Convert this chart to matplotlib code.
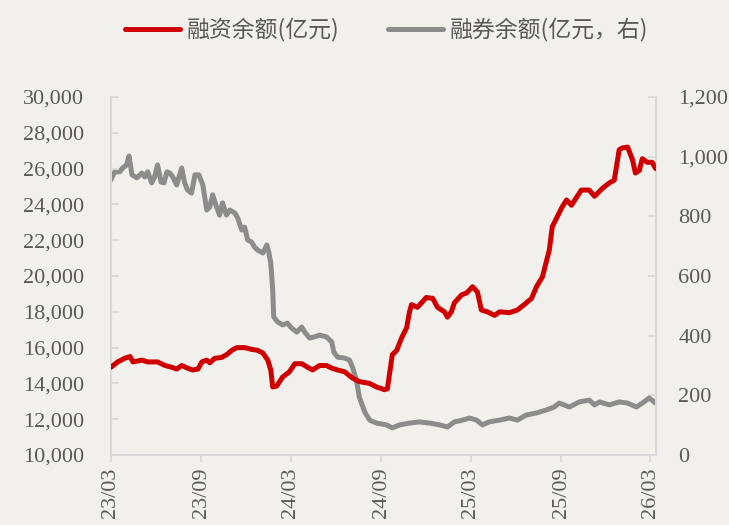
import numpy as np
import pandas as pd
import matplotlib
matplotlib.use("Agg")
import matplotlib.pyplot as plt
import matplotlib.dates as mdates
from matplotlib.ticker import FuncFormatter, MultipleLocator

plt.rcParams['font.family'] = ['Liberation Serif', 'Noto Sans CJK SC', 'DejaVu Sans']

# 融资余额 (亿元), left axis
fin_dates = ["2023-03-01", "2023-03-15", "2023-03-29", "2023-04-09", "2023-04-15", "2023-05-03",
             "2023-05-15", "2023-06-04", "2023-06-19", "2023-07-03", "2023-07-13", "2023-07-23",
             "2023-08-04", "2023-08-14", "2023-08-25", "2023-09-02", "2023-09-12", "2023-09-18",
             "2023-09-28", "2023-10-12", "2023-10-22", "2023-11-02", "2023-11-12", "2023-11-28",
             "2023-12-12", "2023-12-24", "2024-01-04", "2024-01-14", "2024-01-20", "2024-01-24",
             "2024-02-01", "2024-02-13", "2024-02-27", "2024-03-09", "2024-03-23", "2024-04-04",
             "2024-04-14", "2024-04-28", "2024-05-12", "2024-05-23", "2024-06-04", "2024-06-18",
             "2024-07-04", "2024-07-18", "2024-08-08", "2024-08-22", "2024-09-07", "2024-09-13",
             "2024-09-23", "2024-10-02", "2024-10-12", "2024-10-22", "2024-10-28", "2024-11-01",
             "2024-11-13", "2024-11-23", "2024-12-01", "2024-12-14", "2024-12-24", "2025-01-01",
             "2025-01-07", "2025-01-13", "2025-01-21", "2025-01-27", "2025-02-11", "2025-02-21",
             "2025-03-05", "2025-03-15", "2025-03-23", "2025-04-04", "2025-04-19", "2025-04-29",
             "2025-05-19", "2025-06-04", "2025-06-18", "2025-07-03", "2025-07-13", "2025-07-25",
             "2025-08-08", "2025-08-14", "2025-09-02", "2025-09-12", "2025-09-22", "2025-10-12",
             "2025-10-28", "2025-11-08", "2025-11-24", "2025-12-08", "2025-12-18", "2025-12-28",
             "2026-01-03", "2026-01-14", "2026-01-24", "2026-01-30", "2026-02-07", "2026-02-13",
             "2026-02-23", "2026-03-05", "2026-03-12"]
fin_values = [14900, 15200, 15400, 15500, 15200, 15300, 15200, 15200, 15000, 14900, 14800, 15000,
              14850, 14750, 14800, 15200, 15300, 15150, 15400, 15450, 15600, 15850, 16000, 16000,
              15900, 15850, 15700, 15300, 14750, 13800, 13850, 14350, 14650, 15100, 15100, 14900,
              14750, 15000, 15000, 14850, 14750, 14650, 14300, 14100, 14000, 13800, 13650, 13700,
              15600, 15850, 16550, 17100, 18000, 18400, 18250, 18550, 18800, 18750, 18250, 18100,
              18000, 17700, 18000, 18500, 18950, 19050, 19400, 19100, 18100, 18000, 17800, 18000,
              17950, 18100, 18400, 18750, 19400, 19950, 21450, 22750, 23800, 24250, 23950, 24800,
              24800, 24450, 24900, 25200, 25350, 27050, 27150, 27200, 26500, 25750, 25900, 26550,
              26350, 26350, 26000]

# 融券余额 (亿元), right axis
sec_dates = ["2023-03-01", "2023-03-09", "2023-03-19", "2023-03-25", "2023-04-02", "2023-04-07",
             "2023-04-13", "2023-04-23", "2023-05-03", "2023-05-09", "2023-05-15", "2023-05-23",
             "2023-05-29", "2023-06-04", "2023-06-11", "2023-06-17", "2023-06-23", "2023-06-29",
             "2023-07-05", "2023-07-13", "2023-07-17", "2023-07-23", "2023-07-29", "2023-08-04",
             "2023-08-12", "2023-08-19", "2023-08-27", "2023-09-04", "2023-09-12", "2023-09-18",
             "2023-09-24", "2023-10-02", "2023-10-08", "2023-10-14", "2023-10-22", "2023-10-29",
             "2023-11-08", "2023-11-14", "2023-11-22", "2023-11-28", "2023-12-04", "2023-12-12",
             "2023-12-18", "2023-12-24", "2024-01-04", "2024-01-12", "2024-01-16", "2024-01-20",
             "2024-01-24", "2024-01-26", "2024-02-03", "2024-02-13", "2024-02-23", "2024-03-02",
             "2024-03-13", "2024-03-23", "2024-03-29", "2024-04-08", "2024-04-18", "2024-04-28",
             "2024-05-12", "2024-05-23", "2024-05-27", "2024-06-04", "2024-06-18", "2024-06-28",
             "2024-07-04", "2024-07-12", "2024-07-18", "2024-07-29", "2024-08-08", "2024-08-22",
             "2024-09-11", "2024-09-23", "2024-10-08", "2024-10-28", "2024-11-17", "2024-12-08",
             "2024-12-28", "2025-01-13", "2025-01-27", "2025-02-13", "2025-02-27", "2025-03-13",
             "2025-03-25", "2025-04-08", "2025-04-29", "2025-05-19", "2025-06-04", "2025-06-22",
             "2025-07-13", "2025-08-02", "2025-08-18", "2025-08-28", "2025-09-18", "2025-10-08",
             "2025-10-28", "2025-11-08", "2025-11-18", "2025-12-08", "2025-12-28", "2026-01-14",
             "2026-02-01", "2026-02-13", "2026-02-27", "2026-03-12"]
sec_values = [922, 949, 949, 962, 972, 1002, 939, 929, 945, 932, 949, 912,
              932, 972, 915, 912, 949, 945, 932, 905, 929, 962, 912, 888,
              878, 939, 939, 905, 821, 831, 872, 831, 804, 845, 804, 821,
              811, 794, 754, 764, 721, 714, 697, 687, 677, 704, 680, 644,
              553, 463, 446, 436, 442, 426, 412, 429, 412, 392, 396, 402,
              396, 379, 345, 328, 325, 318, 295, 251, 194, 144, 117, 107,
              101, 91, 101, 107, 111, 107, 101, 94, 111, 117, 124, 117,
              101, 111, 117, 124, 117, 134, 141, 151, 161, 174, 161, 178,
              184, 168, 178, 168, 178, 174, 161, 174, 191, 174]

x_ticks = ["2023-03-01", "2023-09-01", "2024-03-01", "2024-09-01", "2025-03-01", "2025-09-01", "2026-03-01"]

bg = '#F2F0ED'
txt = '#595959'
axcol = '#D9D9D9'

fig = plt.figure(figsize=(7.29, 5.25), dpi=100, facecolor=bg)
ax = fig.add_axes([0.152, 0.1333, 0.748, 0.682])
ax.set_facecolor(bg)
ax2 = ax.twinx()

l1, = ax.plot(pd.to_datetime(fin_dates), fin_values, color='#D00000', lw=3.6,
              solid_capstyle='round', solid_joinstyle='round', label='融资余额(亿元)', zorder=3)
l2, = ax2.plot(pd.to_datetime(sec_dates), sec_values, color='#8C8C8C', lw=3.6,
               solid_capstyle='round', solid_joinstyle='round', label='融券余额(亿元，右)', zorder=2)
ax.set_zorder(ax2.get_zorder() + 1)
ax.patch.set_visible(False)
ax2.patch.set_visible(True)
ax2.patch.set_facecolor(bg)

ax.set_xlim(pd.Timestamp("2023-03-01"), pd.Timestamp("2026-03-13"))
ax.set_ylim(10000, 30000)
ax2.set_ylim(0, 1200)
ax.yaxis.set_major_locator(MultipleLocator(2000))
ax2.yaxis.set_major_locator(MultipleLocator(200))
ax.yaxis.set_major_formatter(FuncFormatter(lambda v, p: f'{int(v):,}'))
ax2.yaxis.set_major_formatter(FuncFormatter(lambda v, p: f'{int(v):,}'))

ax.set_xticks(pd.to_datetime(x_ticks))
ax.xaxis.set_major_formatter(mdates.DateFormatter('%y/%m'))
for lab in ax.get_xticklabels():
    lab.set_rotation(90)

for a in (ax, ax2):
    for s in a.spines.values():
        s.set_color(axcol)
        s.set_linewidth(1.3)
    a.spines['top'].set_visible(False)

ax.tick_params(axis='y', direction='in', length=6, width=1.3, color=axcol,
               labelsize=16, labelcolor=txt, pad=19)
ax2.tick_params(axis='y', direction='in', length=6, width=1.3, color=axcol,
                labelsize=16, labelcolor=txt, pad=16)
ax.tick_params(axis='x', direction='out', length=5, width=1.3, color=axcol,
               labelsize=16, labelcolor=txt, pad=4)

leg = fig.legend(handles=[l1, l2], loc='center', bbox_to_anchor=(0.53, 0.943), ncol=2,
                 frameon=False, fontsize=16.5, handlelength=2.4, handletextpad=0.3,
                 columnspacing=2.1)
for t in leg.get_texts():
    t.set_color(txt)
    t.set_family(['Noto Sans CJK SC', 'DejaVu Sans'])

fig.savefig('out.png', dpi=100, facecolor=bg)
